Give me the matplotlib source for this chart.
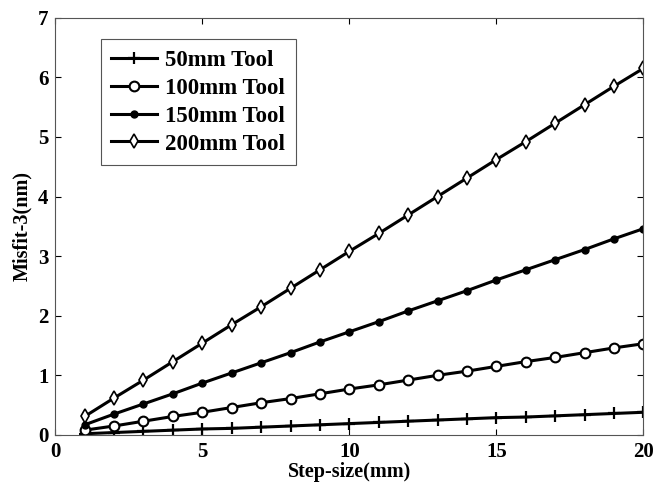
import matplotlib

matplotlib.use("Agg")
import matplotlib.pyplot as plt

plt.rcParams.update({
    "font.family": ["Liberation Serif", "DejaVu Serif"],
    "font.weight": "bold",
    "font.size": 15,
    "axes.linewidth": 0.8,
    "axes.edgecolor": "#555555",
    "xtick.direction": "in",
    "ytick.direction": "in",
    "xtick.top": True,
    "ytick.right": True,
})

step = list(range(1, 21))
tool_50 = [0.02, 0.04, 0.06, 0.08, 0.10, 0.11, 0.13, 0.15, 0.17, 0.19,
           0.21, 0.23, 0.25, 0.27, 0.29, 0.30, 0.32, 0.34, 0.36, 0.38]
tool_100 = [0.08, 0.15, 0.23, 0.31, 0.38, 0.46, 0.54, 0.61, 0.69, 0.77,
            0.84, 0.92, 1.00, 1.07, 1.15, 1.23, 1.30, 1.38, 1.46, 1.53]
tool_150 = [0.17, 0.35, 0.52, 0.69, 0.87, 1.04, 1.21, 1.38, 1.56, 1.73,
            1.90, 2.08, 2.25, 2.42, 2.60, 2.77, 2.94, 3.11, 3.29, 3.46]
tool_200 = [0.31, 0.62, 0.92, 1.23, 1.54, 1.85, 2.15, 2.46, 2.77, 3.08,
            3.38, 3.69, 4.00, 4.31, 4.62, 4.92, 5.23, 5.54, 5.85, 6.15]

fig = plt.figure(figsize=(6.66, 4.92), dpi=100)
ax = fig.add_axes([0.083, 0.116, 0.883, 0.848])

ax.plot(step, tool_50, "k-", marker="+", ms=8, mew=1.6, lw=2.2, label="50mm Tool")
ax.plot(step, tool_100, "k-", marker="o", ms=7, mfc="white", mew=1.5, lw=2.2,
        label="100mm Tool")
ax.plot(step, tool_150, "k-", marker="o", ms=5, mfc="black", lw=2.2,
        label="150mm Tool")
ax.plot(step, tool_200, "k-", marker="d", ms=7, mfc="white", mew=1.2, lw=2.2,
        label="200mm Tool")

ax.set_xlim(0, 20)
ax.set_ylim(0, 7)
ax.set_xticks([0, 5, 10, 15, 20])
ax.set_yticks(range(8))
ax.tick_params(labelsize=15, length=4, colors="black", pad=5)
ax.set_xlabel("Step-size(mm)", fontsize=14.5, fontweight="bold", labelpad=0)
ax.set_ylabel("Misfit-3(nm)", fontsize=14.5, fontweight="bold", labelpad=4)

leg = ax.legend(loc="upper left", bbox_to_anchor=(0.078, 0.948), fancybox=False,
                framealpha=1, edgecolor="#555555", fontsize=16.5,
                handlelength=2.0, handletextpad=0.35, borderpad=0.45,
                labelspacing=0.3, borderaxespad=0)
leg.get_frame().set_linewidth(0.8)

fig.savefig("out.png", dpi=100)
